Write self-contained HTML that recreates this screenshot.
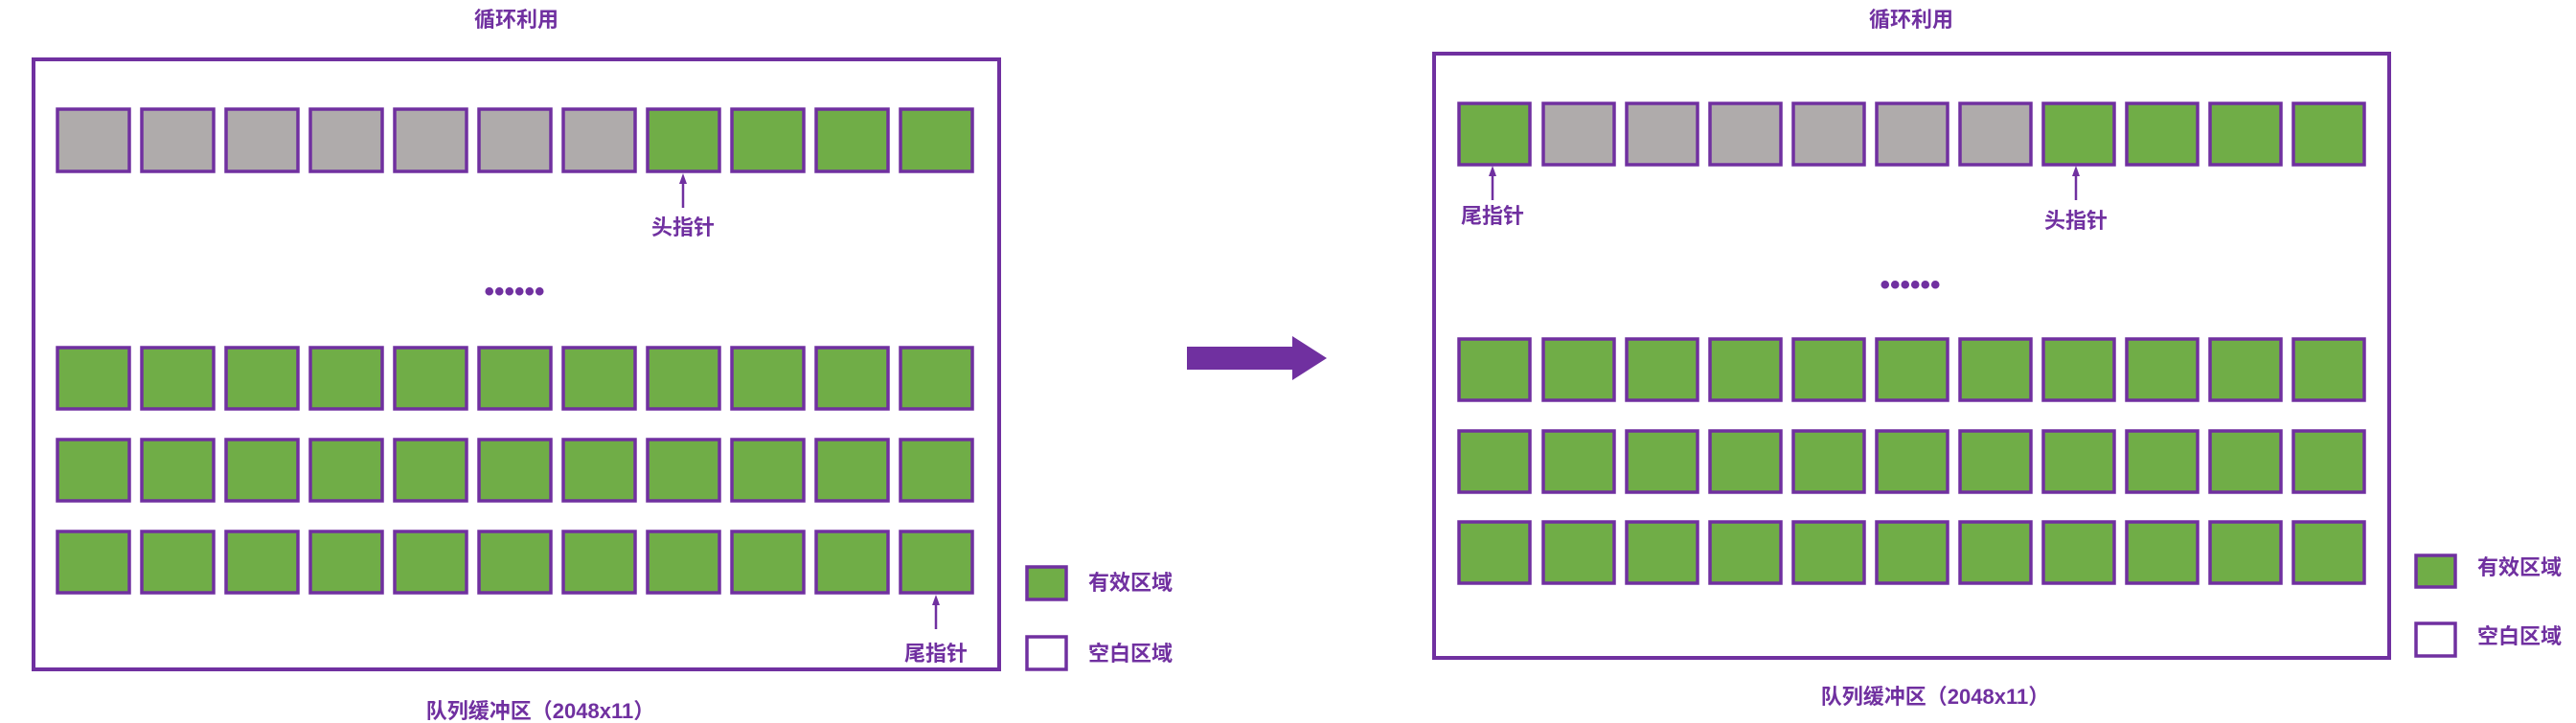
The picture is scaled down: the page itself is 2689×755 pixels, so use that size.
<!DOCTYPE html>
<html><head><meta charset="utf-8"><style>html,body{margin:0;padding:0;background:#fff}svg{display:block}</style></head>
<body>
<svg width="2689" height="755" viewBox="0 0 2689 755" xmlns="http://www.w3.org/2000/svg" font-family="Liberation Sans, Noto Sans CJK SC, sans-serif" font-weight="bold" fill="#7030a0">
<!-- left -->
<text x="539" y="28" font-size="22" text-anchor="middle">循环利用</text>
<rect x="35" y="62" width="1008" height="637" fill="none" stroke="#7030a0" stroke-width="4"/>
<g stroke="#7030a0" stroke-width="3.5">
<rect x="60" y="114" width="75" height="65" fill="#afabab"/>
<rect x="148" y="114" width="75" height="65" fill="#afabab"/>
<rect x="236" y="114" width="75" height="65" fill="#afabab"/>
<rect x="324" y="114" width="75" height="65" fill="#afabab"/>
<rect x="412" y="114" width="75" height="65" fill="#afabab"/>
<rect x="500" y="114" width="75" height="65" fill="#afabab"/>
<rect x="588" y="114" width="75" height="65" fill="#afabab"/>
<rect x="676" y="114" width="75" height="65" fill="#70ad47"/>
<rect x="764" y="114" width="75" height="65" fill="#70ad47"/>
<rect x="852" y="114" width="75" height="65" fill="#70ad47"/>
<rect x="940" y="114" width="75" height="65" fill="#70ad47"/>
</g>
<g stroke="#7030a0" stroke-width="3.5" fill="#70ad47">
<rect x="60" y="363" width="75" height="64"/><rect x="148" y="363" width="75" height="64"/><rect x="236" y="363" width="75" height="64"/><rect x="324" y="363" width="75" height="64"/><rect x="412" y="363" width="75" height="64"/><rect x="500" y="363" width="75" height="64"/><rect x="588" y="363" width="75" height="64"/><rect x="676" y="363" width="75" height="64"/><rect x="764" y="363" width="75" height="64"/><rect x="852" y="363" width="75" height="64"/><rect x="940" y="363" width="75" height="64"/>
<rect x="60" y="459" width="75" height="64"/><rect x="148" y="459" width="75" height="64"/><rect x="236" y="459" width="75" height="64"/><rect x="324" y="459" width="75" height="64"/><rect x="412" y="459" width="75" height="64"/><rect x="500" y="459" width="75" height="64"/><rect x="588" y="459" width="75" height="64"/><rect x="676" y="459" width="75" height="64"/><rect x="764" y="459" width="75" height="64"/><rect x="852" y="459" width="75" height="64"/><rect x="940" y="459" width="75" height="64"/>
<rect x="60" y="555" width="75" height="64"/><rect x="148" y="555" width="75" height="64"/><rect x="236" y="555" width="75" height="64"/><rect x="324" y="555" width="75" height="64"/><rect x="412" y="555" width="75" height="64"/><rect x="500" y="555" width="75" height="64"/><rect x="588" y="555" width="75" height="64"/><rect x="676" y="555" width="75" height="64"/><rect x="764" y="555" width="75" height="64"/><rect x="852" y="555" width="75" height="64"/><rect x="940" y="555" width="75" height="64"/>
</g>
<line x1="713" y1="190" x2="713" y2="217" stroke="#7030a0" stroke-width="2.5"/><polygon points="713,181 709,192 717,192"/>
<text x="713" y="245" font-size="22" text-anchor="middle">头指针</text>
<text x="537" y="314" font-size="30" text-anchor="middle">••••••</text>
<line x1="977" y1="630" x2="977" y2="657" stroke="#7030a0" stroke-width="2.5"/><polygon points="977,621 973,632 981,632"/>
<text x="977" y="690" font-size="22" text-anchor="middle">尾指针</text>
<rect x="1072" y="592" width="41" height="34" fill="#70ad47" stroke="#7030a0" stroke-width="3.5"/>
<text x="1136" y="616" font-size="22">有效区域</text>
<rect x="1072" y="665" width="41" height="34" fill="#fff" stroke="#7030a0" stroke-width="3.5"/>
<text x="1136" y="690" font-size="22">空白区域</text>
<text x="564" y="750" font-size="22" text-anchor="middle">队列缓冲区（2048x11）</text>
<!-- arrow -->
<polygon points="1239,362 1349,362 1349,351 1385,374 1349,397 1349,386 1239,386"/>
<!-- right -->
<text x="1995" y="28" font-size="22" text-anchor="middle">循环利用</text>
<rect x="1497" y="56" width="997" height="631" fill="none" stroke="#7030a0" stroke-width="4"/>
<g stroke="#7030a0" stroke-width="3.5">
<rect x="1523" y="108" width="74" height="64" fill="#70ad47"/>
<rect x="1611" y="108" width="74" height="64" fill="#afabab"/>
<rect x="1698" y="108" width="74" height="64" fill="#afabab"/>
<rect x="1785" y="108" width="74" height="64" fill="#afabab"/>
<rect x="1872" y="108" width="74" height="64" fill="#afabab"/>
<rect x="1959" y="108" width="74" height="64" fill="#afabab"/>
<rect x="2046" y="108" width="74" height="64" fill="#afabab"/>
<rect x="2133" y="108" width="74" height="64" fill="#70ad47"/>
<rect x="2220" y="108" width="74" height="64" fill="#70ad47"/>
<rect x="2307" y="108" width="74" height="64" fill="#70ad47"/>
<rect x="2394" y="108" width="74" height="64" fill="#70ad47"/>
</g>
<g stroke="#7030a0" stroke-width="3.5" fill="#70ad47">
<rect x="1523" y="354" width="74" height="64"/><rect x="1611" y="354" width="74" height="64"/><rect x="1698" y="354" width="74" height="64"/><rect x="1785" y="354" width="74" height="64"/><rect x="1872" y="354" width="74" height="64"/><rect x="1959" y="354" width="74" height="64"/><rect x="2046" y="354" width="74" height="64"/><rect x="2133" y="354" width="74" height="64"/><rect x="2220" y="354" width="74" height="64"/><rect x="2307" y="354" width="74" height="64"/><rect x="2394" y="354" width="74" height="64"/>
<rect x="1523" y="450" width="74" height="64"/><rect x="1611" y="450" width="74" height="64"/><rect x="1698" y="450" width="74" height="64"/><rect x="1785" y="450" width="74" height="64"/><rect x="1872" y="450" width="74" height="64"/><rect x="1959" y="450" width="74" height="64"/><rect x="2046" y="450" width="74" height="64"/><rect x="2133" y="450" width="74" height="64"/><rect x="2220" y="450" width="74" height="64"/><rect x="2307" y="450" width="74" height="64"/><rect x="2394" y="450" width="74" height="64"/>
<rect x="1523" y="545" width="74" height="64"/><rect x="1611" y="545" width="74" height="64"/><rect x="1698" y="545" width="74" height="64"/><rect x="1785" y="545" width="74" height="64"/><rect x="1872" y="545" width="74" height="64"/><rect x="1959" y="545" width="74" height="64"/><rect x="2046" y="545" width="74" height="64"/><rect x="2133" y="545" width="74" height="64"/><rect x="2220" y="545" width="74" height="64"/><rect x="2307" y="545" width="74" height="64"/><rect x="2394" y="545" width="74" height="64"/>
</g>
<line x1="1558" y1="182" x2="1558" y2="209" stroke="#7030a0" stroke-width="2.5"/><polygon points="1558,173 1554,184 1562,184"/>
<text x="1558" y="233" font-size="22" text-anchor="middle">尾指针</text>
<line x1="2167" y1="182" x2="2167" y2="209" stroke="#7030a0" stroke-width="2.5"/><polygon points="2167,173 2163,184 2171,184"/>
<text x="2167" y="238" font-size="22" text-anchor="middle">头指针</text>
<text x="1994" y="307" font-size="30" text-anchor="middle">••••••</text>
<text x="2020" y="735" font-size="22" text-anchor="middle">队列缓冲区（2048x11）</text>
<rect x="2522" y="580" width="41" height="33" fill="#70ad47" stroke="#7030a0" stroke-width="3.5"/>
<text x="2586" y="600" font-size="22">有效区域</text>
<rect x="2522" y="651" width="41" height="34" fill="#fff" stroke="#7030a0" stroke-width="3.5"/>
<text x="2586" y="672" font-size="22">空白区域</text>
</svg>
</body></html>
